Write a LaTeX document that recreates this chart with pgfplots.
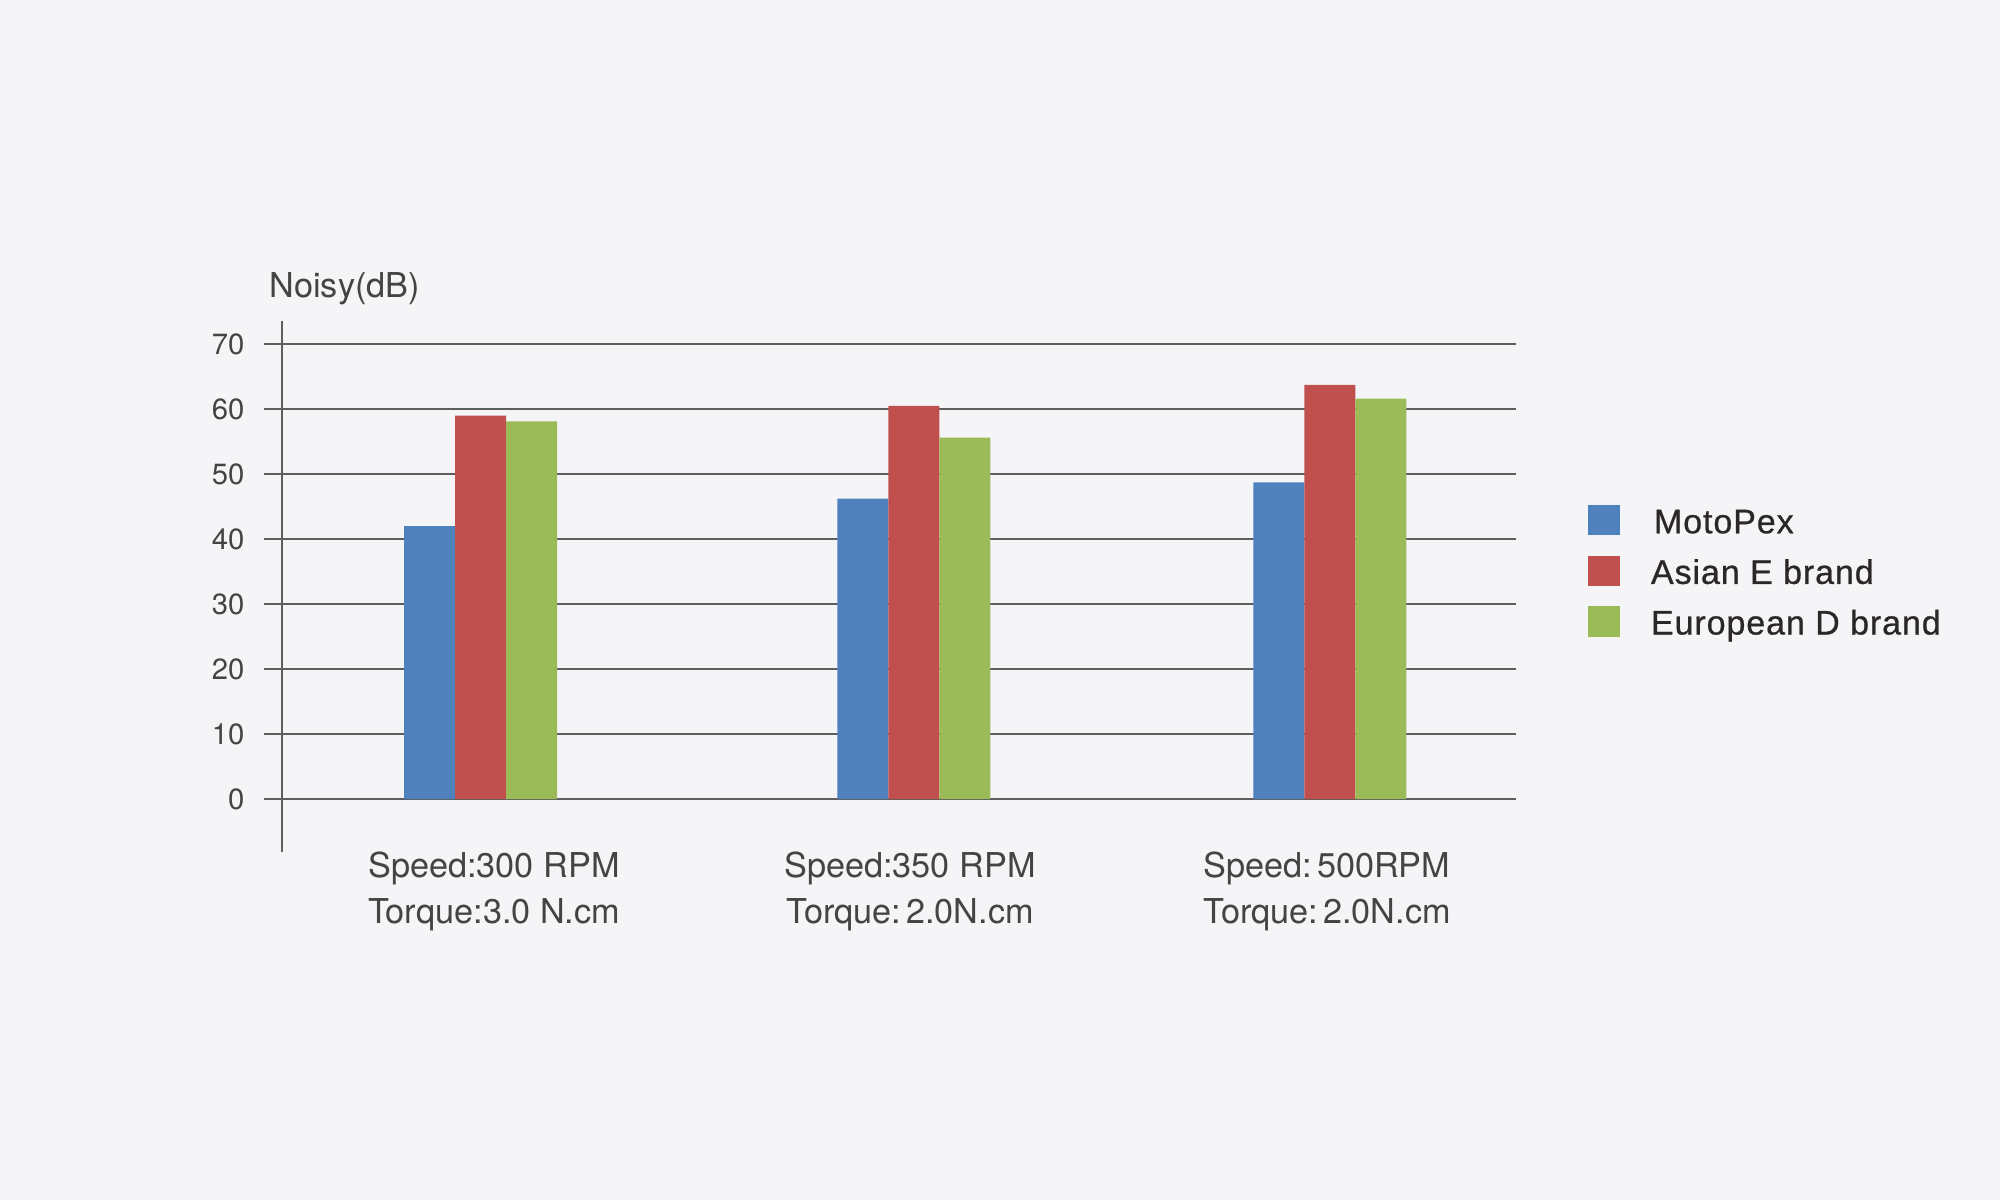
\documentclass[border=0pt]{standalone}
\usepackage{fontspec}
\setmainfont{TeX Gyre Heros}
\newfontfamily\legfont{Liberation Sans}[LetterSpace=2.7, FakeBold=0.7]
\usepackage{pgfplots}
\pgfplotsset{compat=1.18}
\definecolor{bgc}{HTML}{F5F5F7}
\definecolor{gridc}{HTML}{5E5E5E}
\definecolor{txt}{HTML}{444444}
\definecolor{legtxt}{HTML}{2B2727}
\definecolor{cblue}{HTML}{4F81BD}
\definecolor{cred}{HTML}{C0504D}
\definecolor{cgreen}{HTML}{9BBB59}
\begin{document}
\begin{tikzpicture}
\fill[bgc] (0,0) rectangle (800pt,480pt);
\begin{axis}[
  at={(105.6pt,139.32pt)}, anchor=south west,
  x=0.4pt, y=2.6pt,
  xmin=264, xmax=1516, ymin=-8.108, ymax=73.58,
  enlargelimits=false, clip=false,
  axis line style={draw=none},
  major tick length=0pt,
  ytick={0,10,...,70},
  ymajorgrids, major grid style={gridc, line width=0.8pt},
  xtick={494,910,1327},
  xticklabels={{Speed:300 RPM\\Torque:3.0 N.cm},{Speed:350 RPM\\Torque:\kern2pt2.0N.cm},{Speed:\kern2pt500RPM\\Torque:\kern2pt2.0N.cm}},
  xticklabel style={align=center, inner sep=0pt, anchor=north, font=\fontsize{13.7}{18.2}\selectfont, text=txt},
  yticklabel style={anchor=east, inner sep=0pt, xshift=-7.6pt, font=\fontsize{11.7}{14}\selectfont, text=txt},
  /pgf/number format/assume math mode=true,
  legend cell align=left,
  legend style={at={(axis cs:1588,45.25)}, anchor=north west, draw=none, fill=none,
    inner sep=0pt, outer sep=0pt, row sep=6.2pt,
    font=\legfont\fontsize{13.6}{15}\selectfont, text=legtxt,
    nodes={inner sep=0pt, text height=9.8pt, text depth=2.7pt},
    /tikz/every odd column/.append style={column sep=12.4pt}},
]
\addplot[ybar, bar width=51, bar shift=0pt, fill=cblue, draw=none,
  legend image code/.code={\fill[cblue] (0pt,-4.4pt) rectangle (12.8pt,7.8pt);}]
  coordinates {(429.5,42) (862.8,46.2) (1278.8,48.7)};
\addlegendentry{\kern1.2pt MotoPex}
\addplot[ybar, bar width=51, bar shift=0pt, fill=cred, draw=none,
  legend image code/.code={\fill[cred] (0pt,-4.4pt) rectangle (12.8pt,7.8pt);}]
  coordinates {(480.5,59) (913.8,60.5) (1329.8,63.7)};
\addlegendentry{Asian E brand}
\addplot[ybar, bar width=51, bar shift=0pt, fill=cgreen, draw=none,
  legend image code/.code={\fill[cgreen] (0pt,-4.4pt) rectangle (12.8pt,7.8pt);}]
  coordinates {(531.5,58.1) (964.8,55.6) (1380.8,61.6)};
\addlegendentry{European D brand}
\draw[gridc, line width=0.8pt] (axis cs:282,-8.108) -- (axis cs:282,73.58);
\node[anchor=base west, inner sep=0pt, font=\fontsize{13.7}{16}\selectfont, text=txt] at (axis cs:269,77.15) {Noisy(dB)};
\end{axis}
\end{tikzpicture}
\end{document}
